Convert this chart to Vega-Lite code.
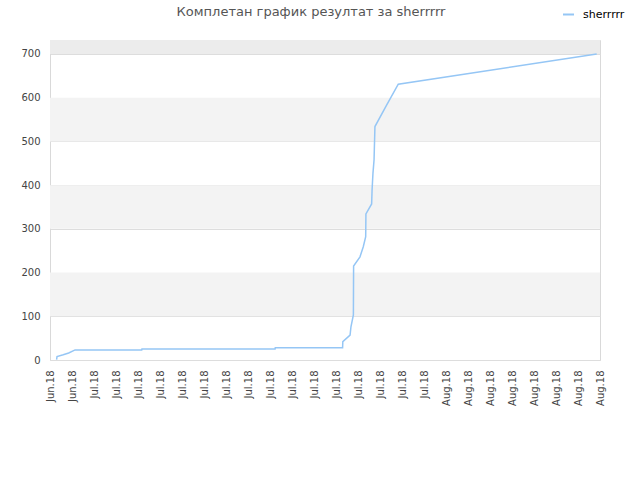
{
  "$schema": "https://vega.github.io/schema/vega-lite/v6.json",
  "width": 550,
  "height": 320,
  "autosize": "none",
  "padding": {"left": 50, "top": 40, "right": 40, "bottom": 120},
  "background": "white",
  "title": {
    "text": "Комплетан график резултат за sherrrrr",
    "anchor": "middle",
    "frame": "group",
    "dx": -14,
    "offset": -11,
    "font": "DejaVu Sans",
    "fontSize": 13,
    "fontWeight": "normal",
    "color": "#555555"
  },
  "config": {
    "view": {"stroke": "#d9d9d9"},
    "font": "DejaVu Sans"
  },
  "datasets": {
    "bands": [
      {"lo": 100, "hi": 200},
      {"lo": 300, "hi": 400},
      {"lo": 500, "hi": 600},
      {"lo": 700, "hi": 732}
    ],
    "scores": [
      {"player": "sherrrrr", "pos": 0.30, "score": 1},
      {"player": "sherrrrr", "pos": 0.32, "score": 8},
      {"player": "sherrrrr", "pos": 0.60, "score": 12},
      {"player": "sherrrrr", "pos": 0.85, "score": 16},
      {"player": "sherrrrr", "pos": 1.14, "score": 23},
      {"player": "sherrrrr", "pos": 4.17, "score": 23},
      {"player": "sherrrrr", "pos": 4.18, "score": 25},
      {"player": "sherrrrr", "pos": 10.23, "score": 25},
      {"player": "sherrrrr", "pos": 10.24, "score": 28},
      {"player": "sherrrrr", "pos": 13.30, "score": 28},
      {"player": "sherrrrr", "pos": 13.31, "score": 42},
      {"player": "sherrrrr", "pos": 13.64, "score": 57},
      {"player": "sherrrrr", "pos": 13.68, "score": 76},
      {"player": "sherrrrr", "pos": 13.79, "score": 103},
      {"player": "sherrrrr", "pos": 13.80, "score": 215},
      {"player": "sherrrrr", "pos": 14.09, "score": 236},
      {"player": "sherrrrr", "pos": 14.24, "score": 259},
      {"player": "sherrrrr", "pos": 14.35, "score": 282},
      {"player": "sherrrrr", "pos": 14.36, "score": 334},
      {"player": "sherrrrr", "pos": 14.62, "score": 357},
      {"player": "sherrrrr", "pos": 14.64, "score": 389},
      {"player": "sherrrrr", "pos": 14.68, "score": 427},
      {"player": "sherrrrr", "pos": 14.73, "score": 458},
      {"player": "sherrrrr", "pos": 14.77, "score": 534},
      {"player": "sherrrrr", "pos": 15.30, "score": 583},
      {"player": "sherrrrr", "pos": 15.83, "score": 631},
      {"player": "sherrrrr", "pos": 24.85, "score": 700}
    ]
  },
  "layer": [
    {
      "data": {"name": "bands"},
      "transform": [{"filter": "datum.lo < 700"}],
      "mark": {"type": "rect", "color": "#f3f3f3"},
      "encoding": {
        "y": {"field": "lo", "type": "quantitative"},
        "y2": {"field": "hi"}
      }
    },
    {
      "data": {"name": "bands"},
      "transform": [{"filter": "datum.lo >= 700"}],
      "mark": {"type": "rect", "color": "#ececec"},
      "encoding": {
        "y": {"field": "lo", "type": "quantitative"},
        "y2": {"field": "hi"}
      }
    },
    {
      "data": {"name": "scores"},
      "mark": {"type": "line", "strokeWidth": 1.5},
      "encoding": {
        "x": {
          "field": "pos",
          "type": "quantitative",
          "scale": {"domain": [0, 25], "nice": false, "zero": false},
          "axis": {
            "title": null,
            "values": [0, 1, 2, 3, 4, 5, 6, 7, 8, 9, 10, 11, 12, 13, 14, 15, 16, 17, 18, 19, 20, 21, 22, 23, 24, 25],
            "labelExpr": "datum.value < 2 ? 'Jun.18' : datum.value < 18 ? 'Jul.18' : 'Aug.18'",
            "labelAngle": -90,
            "labelFontSize": 10,
            "labelColor": "#444444",
            "labelPadding": 10,
            "ticks": false,
            "domain": false,
            "grid": false,
            "labelOverlap": false,
            "labelBound": false
          }
        },
        "y": {
          "field": "score",
          "type": "quantitative",
          "scale": {"domain": [0, 732], "nice": false},
          "axis": {
            "title": null,
            "values": [0, 100, 200, 300, 400, 500, 600, 700],
            "labelFontSize": 10,
            "labelColor": "#444444",
            "labelPadding": 10,
            "ticks": false,
            "domain": false,
            "grid": true,
            "gridColor": "#dddddd"
          }
        },
        "color": {
          "field": "player",
          "type": "nominal",
          "scale": {"range": ["#95c6f5"]},
          "legend": {
            "title": null,
            "orient": "none",
            "legendX": 512,
            "legendY": -32,
            "padding": 0,
            "symbolType": "stroke",
            "symbolSize": 121,
            "symbolStrokeWidth": 2,
            "labelFontSize": 11,
            "labelColor": "#000000",
            "labelOffset": 8
          }
        }
      }
    }
  ]
}
